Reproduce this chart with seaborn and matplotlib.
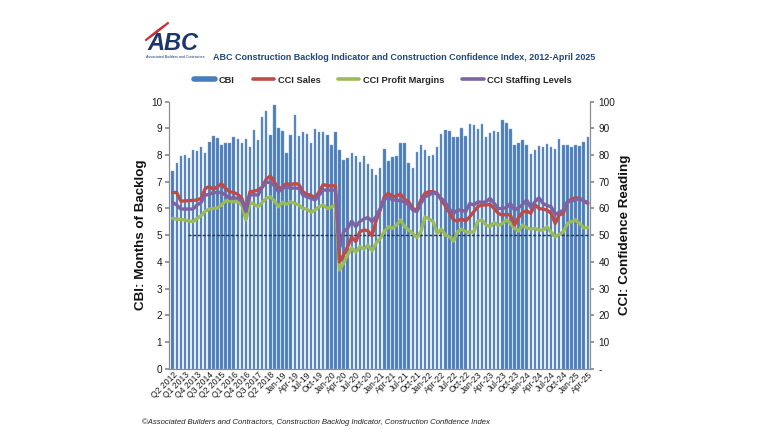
import matplotlib
matplotlib.use("Agg")
import matplotlib.pyplot as plt
from matplotlib.lines import Line2D
import seaborn as sns
import pandas as pd
import numpy as np

# ---------------- data ----------------
quarter_labels = [f"Q{q} {y}" for y in range(2012, 2019) for q in range(1, 5)][1:]   # Q2 2012 .. Q4 2018
month_names = ["Jan", "Feb", "Mar", "Apr", "May", "Jun", "Jul", "Aug", "Sep", "Oct", "Nov", "Dec"]
month_labels = [f"{m}-{y % 100:02d}" for y in range(2019, 2026) for m in month_names][:76]  # Jan-19 .. Apr-25
categories = quarter_labels + month_labels

cbi = [7.40, 7.70, 7.97, 8.00, 7.90, 8.20, 8.17, 8.30, 8.07, 8.50,
       8.73, 8.65, 8.38, 8.45, 8.45, 8.68, 8.60, 8.47, 8.62, 8.29,
       8.95, 8.58, 9.42, 9.67, 8.77, 9.86, 9.02, 8.92, 8.08, 8.77,
       9.52, 8.70, 8.87, 8.79, 8.45, 8.98, 8.86, 8.87, 8.75, 8.37,
       8.87, 8.20, 7.80, 7.88, 8.09, 7.95, 7.76, 7.95, 7.67, 7.48,
       7.25, 7.50, 8.21, 7.77, 7.93, 7.95, 8.44, 8.44, 7.69, 7.53,
       8.10, 8.36, 8.18, 7.95, 8.01, 8.29, 8.79, 8.95, 8.91, 8.66,
       8.67, 9.00, 8.73, 9.18, 9.12, 8.98, 9.17, 8.67, 8.82, 8.89,
       8.86, 9.31, 9.20, 8.98, 8.36, 8.45, 8.58, 8.37, 8.05, 8.20,
       8.35, 8.29, 8.41, 8.32, 8.22, 8.61, 8.39, 8.39, 8.30, 8.36,
       8.35, 8.49, 8.66]

cci_sales = [66.0, 66.0, 62.8, 62.8, 63.0, 63.0, 63.2, 63.8, 67.5, 68.2,
             67.2, 68.2, 69.3, 67.5, 66.3, 66.0, 65.3, 63.8, 59.4, 66.3,
             66.5, 66.9, 68.0, 71.0, 72.2, 70.0, 66.9, 68.2, 69.4, 68.8,
             69.4, 69.0, 66.3, 65.3, 65.0, 63.8, 66.3, 69.0, 68.5, 68.5,
             68.5, 40.0, 42.6, 45.7, 49.4, 47.6, 51.3, 52.0, 51.6, 49.8,
             55.5, 59.5, 64.4, 65.7, 64.4, 64.7, 65.4, 63.4, 62.5, 60.0,
             59.4, 63.2, 65.7, 66.3, 66.3, 65.7, 63.2, 61.0, 58.5, 55.7,
             55.3, 56.1, 55.3, 56.9, 58.8, 60.7, 61.3, 61.3, 61.5, 60.0,
             58.2, 57.5, 57.8, 57.5, 53.8, 56.6, 58.6, 59.1, 58.2, 61.5,
             60.0, 59.8, 59.4, 58.2, 54.4, 57.6, 58.2, 62.5, 63.5, 64.0,
             63.8, 62.8, 61.9]

cci_profit = [56.3, 56.0, 55.9, 55.7, 55.3, 55.1, 56.3, 57.3, 59.0, 59.8,
              60.0, 60.2, 61.3, 62.8, 62.8, 62.5, 62.5, 61.3, 55.7, 62.3,
              61.6, 60.7, 62.3, 63.8, 64.4, 62.8, 60.7, 62.3, 61.6, 62.5,
              61.9, 61.3, 60.0, 59.8, 58.6, 59.4, 60.7, 61.3, 60.0, 60.5,
              61.3, 37.0, 39.5, 42.6, 45.3, 43.6, 45.7, 44.8, 46.3, 44.1,
              47.0, 48.8, 51.3, 53.2, 52.6, 53.8, 55.7, 53.2, 51.9, 50.7,
              49.1, 51.3, 56.9, 56.1, 55.1, 50.7, 52.3, 50.1, 49.4, 47.8,
              51.3, 52.3, 51.3, 51.1, 51.3, 55.3, 55.7, 53.8, 53.2, 54.8,
              53.6, 54.4, 55.7, 54.4, 52.6, 51.6, 53.8, 52.8, 52.3, 52.6,
              51.9, 51.9, 53.2, 51.1, 49.4, 50.3, 51.3, 54.4, 55.1, 55.7,
              54.4, 52.8, 52.8]

cci_staffing = [62.3, 61.3, 59.8, 59.8, 59.8, 59.8, 61.3, 62.3, 65.0, 65.3,
                66.0, 66.0, 66.0, 65.0, 63.8, 64.0, 63.8, 62.8, 58.8, 65.0,
                65.2, 65.0, 68.0, 69.8, 69.8, 68.5, 66.3, 67.5, 68.2, 67.5,
                67.7, 67.5, 65.0, 64.4, 63.8, 63.2, 65.0, 66.9, 66.9, 66.9,
                66.9, 45.1, 51.3, 52.6, 55.3, 53.2, 55.1, 56.1, 56.6, 55.1,
                57.0, 60.0, 63.2, 64.4, 63.2, 63.2, 62.8, 62.5, 61.3, 59.4,
                58.8, 61.9, 64.4, 65.0, 66.0, 65.3, 63.8, 62.3, 59.8, 58.2,
                59.4, 59.4, 58.8, 61.9, 61.3, 62.5, 62.3, 62.5, 63.8, 61.9,
                60.0, 60.0, 60.3, 61.9, 59.4, 60.3, 61.5, 63.2, 60.3, 62.5,
                64.0, 61.9, 61.1, 60.7, 57.8, 58.6, 59.4, 62.5, 62.8, 63.2,
                63.8, 62.8, 62.3]

left_ticks = [0, 1, 2, 3, 4, 5, 6, 7, 8, 9, 10]
right_ticks = [0, 10, 20, 30, 40, 50, 60, 70, 80, 90, 100]
right_tick_labels = ["-", "10", "20", "30", "40", "50", "60", "70", "80", "90", "100"]
reference_level = 50

df = pd.DataFrame({
    "Period": categories,
    "pos": np.arange(len(categories)),
    "CBI": cbi,
    "CCI Sales": cci_sales,
    "CCI Profit Margins": cci_profit,
    "CCI Staffing Levels": cci_staffing,
})

# ---------------- style ----------------
sns.set_theme(style="white")
FONT = "Liberation Sans"
plt.rcParams["font.family"] = [FONT, "DejaVu Sans"]

BLUE = "#4A7EBB"
RED = "#BE4B48"
GREEN = "#9BBB59"
PURPLE = "#7E62A1"
NAVY = "#1F497D"
SPINE = "#8C8C8C"
TXT = "#1A1A1A"

fig = plt.figure(figsize=(7.8, 4.4), dpi=100)
ax = fig.add_axes([169 / 780, 1 - 368.7 / 440, (590 - 169) / 780, (368.7 - 101.7) / 440])

sns.barplot(data=df, x="Period", y="CBI", order=categories, ax=ax,
            color=BLUE, saturation=1, width=0.6, edgecolor="#86A8D4", linewidth=0.3)

ax.set_ylim(0, 10)
ax.set_xlim(-0.9, len(categories) - 0.45)
ax.set_yticks(left_ticks)
ax.set_yticklabels([str(t) for t in left_ticks], fontsize=7.2, color=TXT)
tick_pos = list(range(0, len(categories), 3))
ax.set_xticks(tick_pos)
ax.set_xticklabels([categories[i] for i in tick_pos], rotation=45, ha="right",
                   rotation_mode="anchor", fontsize=6.2, color=TXT)
ax.set_xlabel("")
ax.set_ylabel("CBI: Months of Backlog", fontsize=9.6, fontweight="bold",
              color="#111111", labelpad=3)
ax.tick_params(axis="y", length=3, color=SPINE, pad=2, left=True)
ax.tick_params(axis="x", length=0, pad=1)
for s in ["left", "bottom", "right"]:
    ax.spines[s].set_color(SPINE)
    ax.spines[s].set_linewidth(0.8)
ax.spines["top"].set_visible(False)

ax2 = ax.twinx()
ax2.hlines(reference_level, 3.8, len(categories) - 0.45, colors="#333333",
           linestyles=(0, (2.2, 1.2)), linewidth=1.0, zorder=1)
for col, c in [("CCI Profit Margins", GREEN), ("CCI Sales", RED), ("CCI Staffing Levels", PURPLE)]:
    sns.lineplot(data=df, x="pos", y=col, ax=ax2, color=c, linewidth=2.4, zorder=3)
ax2.set_ylim(0, 100)
ax2.set_xlim(ax.get_xlim())
ax2.set_yticks(right_ticks)
ax2.set_yticklabels(right_tick_labels, fontsize=7.2, color=TXT)
ax2.set_ylabel("CCI: Confidence Reading", fontsize=9.6, fontweight="bold",
               color="#111111", labelpad=3)
ax2.set_xlabel("")
ax2.tick_params(axis="y", length=3, color=SPINE, pad=3, right=True)
for s in ["left", "bottom", "right"]:
    ax2.spines[s].set_color(SPINE)
    ax2.spines[s].set_linewidth(0.8)
ax2.spines["top"].set_visible(False)
ax2.grid(False)
ax.grid(False)
if ax2.get_legend():
    ax2.get_legend().remove()

# legend
handles = [Line2D([], [], color=BLUE, lw=4),
           Line2D([], [], color=RED, lw=2.6),
           Line2D([], [], color=GREEN, lw=2.6),
           Line2D([], [], color=PURPLE, lw=2.6)]
labels = ["CBI", "CCI Sales", "CCI Profit Margins", "CCI Staffing Levels"]
fig.legend(handles, labels, loc="center", bbox_to_anchor=(383 / 780, 1 - 80 / 440), ncol=4,
           frameon=False, prop={"weight": "bold", "size": 6.7},
           handlelength=2.3, handletextpad=0.4, columnspacing=1.9)

# title
fig.text(213 / 780, 1 - 58 / 440,
         "ABC Construction Backlog Indicator and Construction Confidence Index, 2012-April 2025",
         fontsize=6.5, fontweight="bold", color=NAVY, va="center", ha="left")

# logo (text)
fig.text(147 / 780, 1 - 43 / 440, "ABC", fontsize=17, fontweight="bold", style="italic",
         color="#1B3668", va="center", ha="left")
fig.text(146 / 780, 1 - 57 / 440, "Associated Builders and Contractors", fontsize=2.6,
         color="#1B3668", va="center", ha="left")
for k in range(3):
    fig.add_artist(Line2D([(146 + 4 * k) / 780, (160 + 4 * k) / 780],
                          [1 - (40 - 3 * k) / 440, 1 - (29 - 3 * k) / 440],
                          color="#C8323A", lw=1.6))

# footer
fig.text(142 / 780, 1 - 422 / 440,
         "\u00a9Associated Builders and Contractors, Construction Backlog Indicator, Construction Confidence Index",
         fontsize=5.6, style="italic", color="#222222", va="center", ha="left")

fig.savefig("out.png", dpi=100, facecolor="white")
